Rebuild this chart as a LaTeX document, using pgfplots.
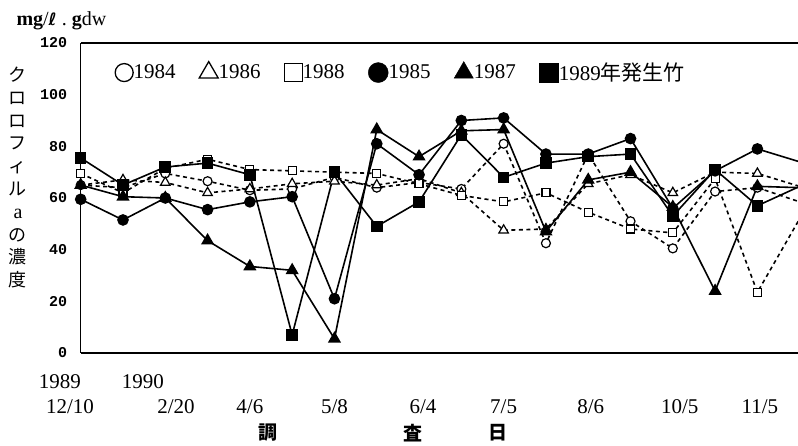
\documentclass[border=0pt]{standalone}
\usepackage{fontspec}
\setmainfont{Liberation Serif}
\newfontfamily\cjk{Noto Sans CJK JP}
\newfontfamily\tickfont{Liberation Mono}
\newfontfamily\symfont{DejaVu Sans}
\usepackage{pgfplots}
\usepackage{pgfplotstable}
\pgfplotsset{compat=1.18}

% Chlorophyll a concentration by survey date (index 0..17), one column per bamboo year class
\pgfplotstableread{
i   y84   y86   y88   y85   y87   y89
0   65    65    69.5  59.5  65    75.5
1   64    67    62    51.5  60.5  65
2   69.5  66    71.5  60    60    72
3   66.5  62    75    55.5  43.5  73.5
4   63    63.5  71    58.5  33.5  69
5   63.5  65.5  70.5  60.5  32    7
6   68    66.5  70    21    5.5   70
7   64    65    69.5  81    86.5  49
8   66    67.5  65.5  69    76    58.5
9   63.5  62    61    90    86    84.5
10  81    47.5  58.5  91    86.5  68
11  42.5  48    62    77    47    73.5
12  77    65.5  54.5  77    67    76
13  51    69    48    83    70    77
14  40.5  62    46.5  56    56.5  53
15  62.5  70    67.5  70.5  24    71
16  64    69.5  23.5  79    64.5  57
17  58.5  64.5  52    74    64    64.5
}\chl

\pgfplotsset{
  openser/.style={black, line width=1.6pt, dash pattern=on 4pt off 3.5pt,
    mark options={solid, fill=white, line width=1.2pt}},
  fullser/.style={black, line width=1.6pt, solid,
    mark options={solid, fill=black}},
}

\begin{document}
\begin{tikzpicture}[x=1pt,y=1pt]
\begin{axis}[
  name=main, at={(0pt,0pt)}, anchor=south west,
  scale only axis, width=717.3pt, height=310pt,
  xmin=0, xmax=16.96, ymin=0, ymax=120,
  axis x line*=box, axis y line*=left,
  axis line style={line width=1.6pt, black},
  ytick={0,20,...,120},
  xtick={0,2,...,16},
  xticklabels={\hspace*{-21.4pt}12/10, \hspace*{21.4pt}2/20, 4/6, 5/8,
    \hspace*{8pt}6/4, 7/5, \hspace*{5pt}8/6, \hspace*{14pt}10/5, \hspace*{5pt}11/5},
  major tick length=0pt,
  /pgf/number format/assume math mode=true,
  yticklabel style={font=\tickfont\bfseries\fontsize{15}{15}\selectfont, xshift=-10pt},
  xticklabel style={font=\fontsize{21}{21}\selectfont, anchor=base, yshift=-60.5pt},
  legend columns=6,
  legend style={draw=none, fill=none, inner sep=0pt,
    at={(0.0478,0.906)}, anchor=west,
    font=\fontsize{21}{21}\selectfont,
    nodes={inner sep=0.5pt},
    /tikz/every even column/.append style={column sep=23pt}},
  legend image code/.code={\draw[#1] plot coordinates {(0pt,0pt)};},
]
% legend symbols
\addlegendimage{mark=*, mark size=9pt, mark options={fill=white, line width=1.3pt}}
\addlegendentry{1984}
\addlegendimage{mark=triangle*, mark size=11pt, mark options={fill=white, line width=1.3pt}}
\addlegendentry{1986}
\addlegendimage{mark=square*, mark size=9pt, mark options={fill=white, line width=1.3pt}}
\addlegendentry{1988}
\addlegendimage{mark=*, mark size=10pt, mark options={fill=black}}
\addlegendentry{1985}
\addlegendimage{mark=triangle*, mark size=11pt, mark options={fill=black}}
\addlegendentry{1987}
\addlegendimage{mark=square*, mark size=9.5pt, mark options={fill=black}}
\addlegendentry{1989{\cjk 年発生竹}}

% older shoots: dashed lines, open marks
\addplot[openser, mark=*, mark size=4.5pt, forget plot] table[x=i, y=y84] {\chl};
\addplot[openser, mark=triangle*, mark size=5.5pt, forget plot] table[x=i, y=y86] {\chl};
\addplot[openser, mark=square*, mark size=4pt, forget plot] table[x=i, y=y88] {\chl};
% solid lines, filled marks
\addplot[fullser, mark=*, mark size=5pt, forget plot] table[x=i, y=y85] {\chl};
\addplot[fullser, mark=triangle*, mark size=6pt, forget plot] table[x=i, y=y87] {\chl};
\addplot[fullser, mark=square*, mark size=5pt, forget plot] table[x=i, y=y89] {\chl};
\end{axis}

% year line above the first two dates
\node[anchor=base, font=\fontsize{21}{21}\selectfont] at (-20.7,-36) {1989};
\node[anchor=base, font=\fontsize{21}{21}\selectfont] at (62.3,-36) {1990};

% x axis title
\node[font=\cjk\bfseries\fontsize{19}{19}\selectfont] at (187.3,-80) {調};
\node[font=\cjk\bfseries\fontsize{19}{19}\selectfont] at (332.3,-80) {査};
\node[font=\cjk\bfseries\fontsize{19}{19}\selectfont] at (417.3,-80) {日};

% y axis title, set vertically
\node[align=center, font=\cjk\fontsize{18}{22.8}\selectfont] at (-62.7,175.5)
  {ク\\ロ\\ロ\\フ\\ィ\\ル\\{\normalfont\fontsize{20}{22.8}\selectfont a}\\の\\濃\\度};

% unit
\node[anchor=base west, font=\fontsize{20}{20}\selectfont] at (-67.7,327)
  {\textbf{mg}/{\symfont\bfseries\fontsize{17}{17}\selectfont ℓ}\ .\ \textbf{g}dw};

\pgfresetboundingbox
\path[use as bounding box] (-80.7,-93) rectangle (717.3,353);
\end{tikzpicture}
\end{document}
